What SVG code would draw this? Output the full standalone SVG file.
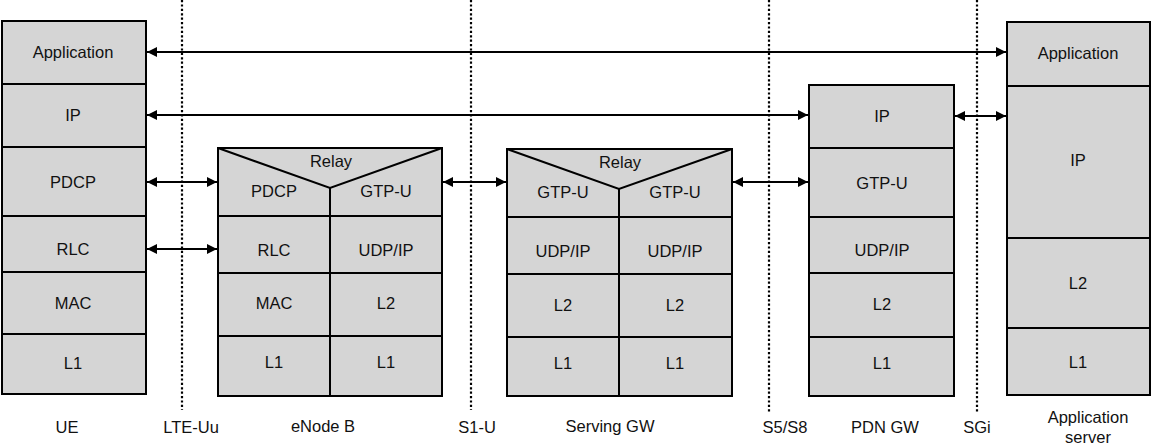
<svg xmlns="http://www.w3.org/2000/svg" width="1152" height="444" viewBox="0 0 1152 444">
<style>
.c{fill:#d5d5d5;stroke:#000;stroke-width:2}
.t{font-family:"Liberation Sans",Arial,sans-serif;font-size:16.5px;fill:#111;text-anchor:middle;dominant-baseline:central}
.d{stroke:#000;stroke-width:2.2;stroke-dasharray:2.2,2.2;fill:none}
.a{stroke:#000;stroke-width:2;fill:none;marker-start:url(#h);marker-end:url(#h)}
.l{stroke:#000;stroke-width:2;fill:none}
</style>
<defs>
<marker id="h" viewBox="0 0 10 10" refX="10" refY="5" markerWidth="6" markerHeight="5" orient="auto-start-reverse" markerUnits="strokeWidth">
<path d="M0,0 L10,5 L0,10 z" fill="#000"/>
</marker>
</defs>
<rect width="1152" height="444" fill="#fff"/>
<g id="interfaces">
<line class="d" x1="182" y1="0" x2="182" y2="410"/>
<line class="d" x1="471" y1="0" x2="471" y2="410"/>
<line class="d" x1="769" y1="0" x2="769" y2="412"/>
<line class="d" x1="977" y1="0" x2="977" y2="412"/>
<text class="t" x="191" y="427">LTE-Uu</text>
<text class="t" x="477" y="427">S1-U</text>
<text class="t" x="785" y="427">S5/S8</text>
<text class="t" x="977" y="427">SGi</text>
</g>
<g id="ue">
<rect class="c" x="2" y="21" width="144" height="63"/>
<rect class="c" x="2" y="84" width="144" height="63"/>
<rect class="c" x="2" y="147" width="144" height="69"/>
<rect class="c" x="2" y="216" width="144" height="56"/>
<rect class="c" x="2" y="272" width="144" height="62"/>
<rect class="c" x="2" y="334" width="144" height="60"/>
<text class="t" x="73" y="52">Application</text>
<text class="t" x="73" y="115">IP</text>
<text class="t" x="73" y="182">PDCP</text>
<text class="t" x="73" y="249">RLC</text>
<text class="t" x="73" y="303">MAC</text>
<text class="t" x="73" y="363">L1</text>
<text class="t" x="67" y="427">UE</text>
</g>
<g id="enodeb">
<rect class="c" x="218" y="148" width="224" height="68"/>
<path class="l" d="M218,148 L330,188 L442,148 M330,188 V216"/>
<rect class="c" x="218" y="216" width="112" height="57"/>
<rect class="c" x="330" y="216" width="112" height="57"/>
<rect class="c" x="218" y="273" width="112" height="63"/>
<rect class="c" x="330" y="273" width="112" height="63"/>
<rect class="c" x="218" y="336" width="112" height="60"/>
<rect class="c" x="330" y="336" width="112" height="60"/>
<text class="t" x="331" y="161">Relay</text>
<text class="t" x="274" y="191">PDCP</text>
<text class="t" x="386" y="191">GTP-U</text>
<text class="t" x="274" y="250">RLC</text>
<text class="t" x="386" y="250">UDP/IP</text>
<text class="t" x="274" y="303">MAC</text>
<text class="t" x="386" y="303">L2</text>
<text class="t" x="274" y="362">L1</text>
<text class="t" x="386" y="362">L1</text>
<text class="t" x="323" y="426">eNode B</text>
</g>
<g id="sgw">
<rect class="c" x="507" y="149" width="225" height="68"/>
<path class="l" d="M507,149 L619,189 L732,149 M619,189 V217"/>
<rect class="c" x="507" y="217" width="112" height="57"/>
<rect class="c" x="619" y="217" width="113" height="57"/>
<rect class="c" x="507" y="274" width="112" height="63"/>
<rect class="c" x="619" y="274" width="113" height="63"/>
<rect class="c" x="507" y="337" width="112" height="59"/>
<rect class="c" x="619" y="337" width="113" height="59"/>
<text class="t" x="620" y="162">Relay</text>
<text class="t" x="563" y="192">GTP-U</text>
<text class="t" x="675" y="192">GTP-U</text>
<text class="t" x="563" y="251">UDP/IP</text>
<text class="t" x="675" y="251">UDP/IP</text>
<text class="t" x="563" y="305">L2</text>
<text class="t" x="675" y="305">L2</text>
<text class="t" x="563" y="363">L1</text>
<text class="t" x="675" y="363">L1</text>
<text class="t" x="610" y="426">Serving GW</text>
</g>
<g id="pdngw">
<rect class="c" x="809" y="85" width="145" height="63"/>
<rect class="c" x="809" y="148" width="145" height="69"/>
<rect class="c" x="809" y="217" width="145" height="56"/>
<rect class="c" x="809" y="273" width="145" height="64"/>
<rect class="c" x="809" y="337" width="145" height="59"/>
<text class="t" x="882" y="116">IP</text>
<text class="t" x="882" y="183">GTP-U</text>
<text class="t" x="882" y="250">UDP/IP</text>
<text class="t" x="882" y="304">L2</text>
<text class="t" x="882" y="363">L1</text>
<text class="t" x="885" y="427">PDN GW</text>
</g>
<g id="appserver">
<rect class="c" x="1007" y="22" width="143" height="64"/>
<rect class="c" x="1007" y="86" width="143" height="152"/>
<rect class="c" x="1007" y="238" width="143" height="90"/>
<rect class="c" x="1007" y="328" width="143" height="67"/>
<text class="t" x="1078" y="53">Application</text>
<text class="t" x="1078" y="160">IP</text>
<text class="t" x="1078" y="283">L2</text>
<text class="t" x="1078" y="362">L1</text>
<text class="t" x="1088" y="417">Application</text>
<text class="t" x="1088" y="437">server</text>
</g>
<g id="connectors">
<line class="a" x1="147" y1="52" x2="1006" y2="52"/>
<line class="a" x1="147" y1="115" x2="808" y2="115"/>
<line class="a" x1="147" y1="182" x2="217" y2="182"/>
<line class="a" x1="147" y1="249" x2="217" y2="249"/>
<line class="a" x1="443" y1="182" x2="506" y2="182"/>
<line class="a" x1="733" y1="182" x2="808" y2="182"/>
<line class="a" x1="955" y1="116" x2="1006" y2="116"/>
</g>
</svg>
